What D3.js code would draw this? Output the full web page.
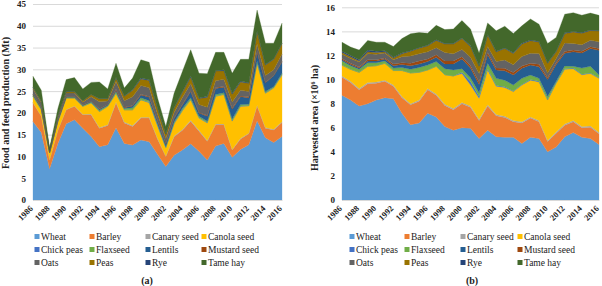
<!DOCTYPE html>
<html>
<head>
<meta charset="utf-8">
<script src="https://cdn.jsdelivr.net/npm/d3@7"></script>
<style>
  body { margin: 0; background: #fff; }
  text { font-family: "Liberation Serif", "Times New Roman", serif; font-weight: bold; fill: #222; }
</style>
</head>
<body>
<svg id="fig" width="602" height="286"></svg>
<script>
// categories
const years = [1986,1987,1988,1989,1990,1991,1992,1993,1994,1995,1996,1997,1998,1999,2000,
  2001,2002,2003,2004,2005,2006,2007,2008,2009,2010,2011,2012,2013,2014,2015,2016];
const yearTicks = [1986,1988,1990,1992,1994,1996,1998,2000,2002,2004,2006,2008,2010,2012,2014,2016];
const crops = ["Wheat","Barley","Canary seed","Canola seed","Chick peas","Flaxseed",
  "Lentils","Mustard seed","Oats","Peas","Rye","Tame hay"];
const colors = ["#5B9BD5","#ED7D31","#A5A5A5","#FFC000","#4472C4","#70AD47",
  "#255E91","#9E480E","#636363","#997300","#264478","#43682B"];

// (a) production, Mt
const prodWheat   = [18.0,15.5,7.2,13.0,17.5,18.4,16.5,14.6,12.2,12.7,16.6,13.0,12.6,13.8,13.4,10.5,7.7,10.3,11.5,12.9,11.2,9.2,12.4,13.0,9.8,11.6,12.7,18.2,14.3,13.2,14.6];
const prodBarley  = [4.3,3.7,2.0,3.0,3.2,3.1,3.1,5.0,4.3,4.4,5.7,4.7,4.3,5.0,5.4,3.5,2.3,4.2,4.5,5.2,4.6,4.3,4.9,4.3,1.7,2.4,2.5,3.4,2.2,2.9,3.2];
const prodCanary  = [0.1,0.1,0.05,0.1,0.1,0.1,0.1,0.15,0.15,0.15,0.2,0.2,0.2,0.2,0.2,0.15,0.1,0.2,0.2,0.2,0.2,0.15,0.15,0.15,0.1,0.15,0.15,0.15,0.15,0.15,0.15];
const prodCanola  = [1.4,1.4,1.55,1.9,2.6,1.8,1.8,2.55,3.65,4.25,2.0,2.8,3.6,4.0,3.3,2.85,1.9,2.8,4.3,4.7,2.8,4.05,6.35,6.75,6.5,7.35,6.25,9.65,7.85,9.45,10.75];
const prodChick   = [0,0,0,0,0,0,0,0,0,0,0,0,0,0,0.2,0.3,0.1,0.1,0.1,0.1,0.1,0.1,0.05,0.1,0.1,0.1,0.1,0.15,0.1,0.1,0.1];
const prodFlax    = [0.3,0.3,0.1,0.2,0.2,0.2,0.2,0.2,0.3,0.2,0.4,0.3,0.5,0.5,0.3,0.2,0.2,0.3,0.4,0.4,0.3,0.3,0.35,0.3,0.4,0.3,0.3,0.35,0.3,0.2,0.3];
const prodLentils = [0.1,0.1,0.05,0.1,0.1,0.1,0.1,0.15,0.25,0.2,0.3,0.2,0.4,0.6,0.8,0.6,0.5,0.8,0.8,1.4,0.8,1.1,1.4,1.3,2.3,1.8,1.5,2.0,2.0,2.5,2.6];
const prodMustard = [0.1,0.1,0.05,0.05,0.05,0.05,0.05,0.05,0.1,0.05,0.2,0.1,0.1,0.2,0.15,0.15,0.1,0.1,0.15,0.2,0.1,0.2,0.2,0.2,0.2,0.2,0.2,0.2,0.1,0.1,0.1];
const prodOats    = [1.2,1.1,0.3,0.8,0.8,0.8,0.6,1.0,1.6,0.8,1.8,1.5,2.0,2.0,2.0,1.5,1.2,1.3,1.6,1.6,1.8,1.9,1.6,1.6,1.4,1.3,1.2,1.8,1.6,1.3,1.7];
const prodPeas    = [0.3,0.3,0.1,0.2,0.3,0.3,0.3,0.5,0.7,0.5,0.8,1.0,1.5,1.5,1.7,1.3,1.0,1.0,1.2,1.5,1.4,2.3,2.2,2.0,1.8,1.9,1.9,2.8,2.4,2.4,2.4];
const prodRye     = [0.1,0.1,0.05,0.05,0.1,0.05,0.05,0.05,0.05,0.05,0.1,0.1,0.1,0.2,0.15,0.15,0.1,0.1,0.1,0.2,0.1,0.2,0.1,0.2,0.2,0.2,0.1,0.1,0.1,0.1,0.1];
const prodHay     = [2.5,2.5,0.5,1.6,2.7,3.2,2.7,2.75,3.8,2.2,3.3,1.8,2.7,4.2,4.0,2.3,1.7,3.3,4.65,6.1,5.7,5.2,4.2,4.0,4.6,5.0,5.4,4.8,4.9,3.6,4.6];

// (b) harvested area, million ha
const areaWheat   = [8.7,8.3,7.8,8.0,8.3,8.5,8.4,7.2,6.25,6.4,7.2,6.9,6.1,5.8,6.0,5.95,5.1,5.8,5.25,5.2,5.2,4.7,5.2,5.1,4.0,4.4,5.25,5.6,5.2,5.1,4.6];
const areaBarley  = [1.5,1.45,1.35,1.65,1.4,1.35,1.05,1.3,1.65,1.8,1.95,1.8,1.75,1.7,2.0,1.75,1.5,2.0,1.75,1.65,1.3,1.7,1.6,1.4,0.85,1.15,0.95,0.9,0.8,0.95,0.9];
const areaCanary  = [0.1,0.1,0.1,0.1,0.1,0.1,0.1,0.1,0.1,0.1,0.1,0.1,0.1,0.1,0.1,0.1,0.1,0.1,0.1,0.1,0.1,0.1,0.1,0.1,0.1,0.1,0.1,0.1,0.1,0.1,0.1];
const areaCanola  = [0.9,1.0,1.35,1.35,1.35,1.4,1.2,2.15,2.55,2.3,1.55,2.3,2.45,2.7,2.4,1.75,1.75,2.9,2.35,2.4,2.4,3.05,3.05,3.2,3.35,4.05,4.55,4.3,4.3,4.35,4.5];
const areaChick   = [0,0,0,0,0,0,0,0,0,0,0,0,0,0,0.1,0.3,0.15,0.1,0.05,0.05,0.05,0.05,0.05,0.05,0.05,0.05,0.05,0.05,0.05,0.05,0.05];
const areaFlax    = [0.35,0.3,0.25,0.3,0.25,0.2,0.2,0.25,0.3,0.4,0.4,0.4,0.5,0.5,0.3,0.3,0.3,0.45,0.6,0.55,0.5,0.5,0.37,0.25,0.25,0.1,0.23,0.15,0.5,0.55,0.23];
const areaLentils = [0.1,0.1,0.1,0.15,0.15,0.15,0.2,0.25,0.3,0.3,0.3,0.35,0.4,0.5,0.8,0.8,0.7,0.7,0.7,0.78,0.83,0.83,0.83,0.97,1.4,1.4,1.05,1.2,1.25,1.47,2.05];
const areaMustard = [0.1,0.1,0.1,0.1,0.1,0.1,0.15,0.15,0.2,0.25,0.2,0.2,0.25,0.25,0.2,0.2,0.2,0.2,0.15,0.2,0.2,0.2,0.15,0.2,0.15,0.15,0.15,0.15,0.15,0.15,0.15];
const areaOats    = [0.35,0.4,0.4,0.5,0.45,0.4,0.35,0.5,0.6,0.6,0.6,0.6,0.7,0.6,0.6,0.7,0.7,0.5,0.55,0.7,0.64,0.78,0.83,0.9,0.4,0.35,0.7,0.55,0.55,0.55,0.55];
const areaPeas    = [0.15,0.15,0.1,0.15,0.15,0.1,0.15,0.25,0.4,0.45,0.5,0.6,0.7,0.8,0.9,0.9,0.6,0.95,0.8,0.95,0.95,1.05,1.05,0.95,0.8,0.55,0.8,0.95,0.95,0.8,0.9];
const areaRye     = [0.1,0.1,0.1,0.15,0.1,0.1,0.05,0.05,0.05,0.05,0.05,0.05,0.05,0.05,0.05,0.05,0.05,0.05,0.05,0.05,0.05,0.05,0.05,0.05,0.05,0.05,0.05,0.05,0.05,0.05,0.05];
const areaHay     = [0.75,0.7,0.8,0.8,0.75,0.7,0.9,1.2,1.4,1.25,1.0,1.2,1.15,1.2,1.45,1.4,1.05,0.95,1.7,1.8,1.6,1.45,1.75,1.42,1.6,1.15,1.55,1.55,1.45,1.4,1.25];

const prodTicks = [0,5,10,15,20,25,30,35,40,45];
const areaTicks = [0,2,4,6,8,10,12,14,16];

const prodSeries = [prodWheat,prodBarley,prodCanary,prodCanola,prodChick,prodFlax,prodLentils,prodMustard,prodOats,prodPeas,prodRye,prodHay];
const areaSeries = [areaWheat,areaBarley,areaCanary,areaCanola,areaChick,areaFlax,areaLentils,areaMustard,areaOats,areaPeas,areaRye,areaHay];

const svg = d3.select("#fig");

function drawChart(cfg) {
    // table for d3.stack
    const rows = years.map((yr, i) => {
        const r = { year: yr };
        crops.forEach((c, k) => r[c] = cfg.series[k][i]);
        return r;
    });

    const x = d3.scaleLinear().domain([1986, 2016]).range([cfg.x0, cfg.x1]);
    const y = d3.scaleLinear().domain([0, cfg.ticks[cfg.ticks.length - 1]]).range([200, cfg.yTop]);

    const g = svg.append("g");

    // gridlines + y labels
    const yAxis = g.append("g")
        .attr("transform", `translate(${cfg.x0},0)`)
        .call(d3.axisLeft(y).tickValues(cfg.ticks).tickSize(-(cfg.x1 - cfg.x0)).tickPadding(7));
    yAxis.select(".domain").remove();
    yAxis.selectAll("line").attr("stroke", "#d9d9d9").attr("stroke-width", 1);
    yAxis.selectAll("text").style("font-size", "9px").attr("fill", "#222");

    const stack = d3.stack().keys(crops);
    const layers = stack(rows);

    const area = d3.area()
        .x(d => x(d.data.year))
        .y0(d => y(d[0]))
        .y1(d => y(d[1]));

    g.append("g")
        .selectAll("path")
        .data(layers)
        .enter()
        .append("path")
        .attr("d", area)
        .attr("fill", (d, i) => colors[i])
        .attr("stroke", (d, i) => colors[i])
        .attr("stroke-width", 0.3);

    // x axis, labels rotated so that they end at their tick
    const xAxis = g.append("g")
        .attr("transform", `translate(0,200)`)
        .call(d3.axisBottom(x).tickValues(yearTicks).tickFormat(d3.format("d")).tickSize(0));
    xAxis.select(".domain").attr("stroke", "#d9d9d9");
    xAxis.selectAll("text")
        .style("font-size", "8.5px")
        .attr("fill", "#222")
        .attr("text-anchor", "end")
        .attr("y", 0)
        .attr("dy", "0.35em")
        .attr("transform", "translate(-2,7) rotate(-45)");

    // axis title
    g.append("text")
        .attr("transform", `translate(${cfg.titleX},${cfg.titleY}) rotate(-90)`)
        .attr("text-anchor", "middle")
        .style("font-size", "10px")
        .text(cfg.title);

    // legend
    const rowsY = [237, 250, 263];
    crops.forEach((c, i) => {
        const col = i % 4, row = Math.floor(i / 4);
        const lx = cfg.legendX[col];
        g.append("rect")
            .attr("x", lx - 2.5).attr("y", rowsY[row] - 3)
            .attr("width", 5).attr("height", 5)
            .attr("fill", colors[i]);
        g.append("text")
            .attr("x", lx + 4).attr("y", rowsY[row] + 2.5)
            .style("font-size", "9.5px")
            .style("font-weight", "normal")
            .text(c);
    });

    g.append("text")
        .attr("x", cfg.labelX).attr("y", 284)
        .attr("text-anchor", "middle")
        .style("font-size", "10px")
        .text(cfg.label);
}

drawChart({
    series: prodSeries, ticks: prodTicks,
    x0: 33, x1: 282, yTop: 4,
    title: "Food and feed production (Mt)", titleX: 9, titleY: 103,
    legendX: [37, 92, 148, 204], label: "(a)", labelX: 147
});

drawChart({
    series: areaSeries, ticks: areaTicks,
    x0: 342, x1: 599, yTop: 7.3,
    title: "Harvested area (×10\u2076 ha)", titleX: 318, titleY: 118,
    legendX: [352, 407, 463, 520], label: "(b)", labelX: 472
});
</script>
</body>
</html>
